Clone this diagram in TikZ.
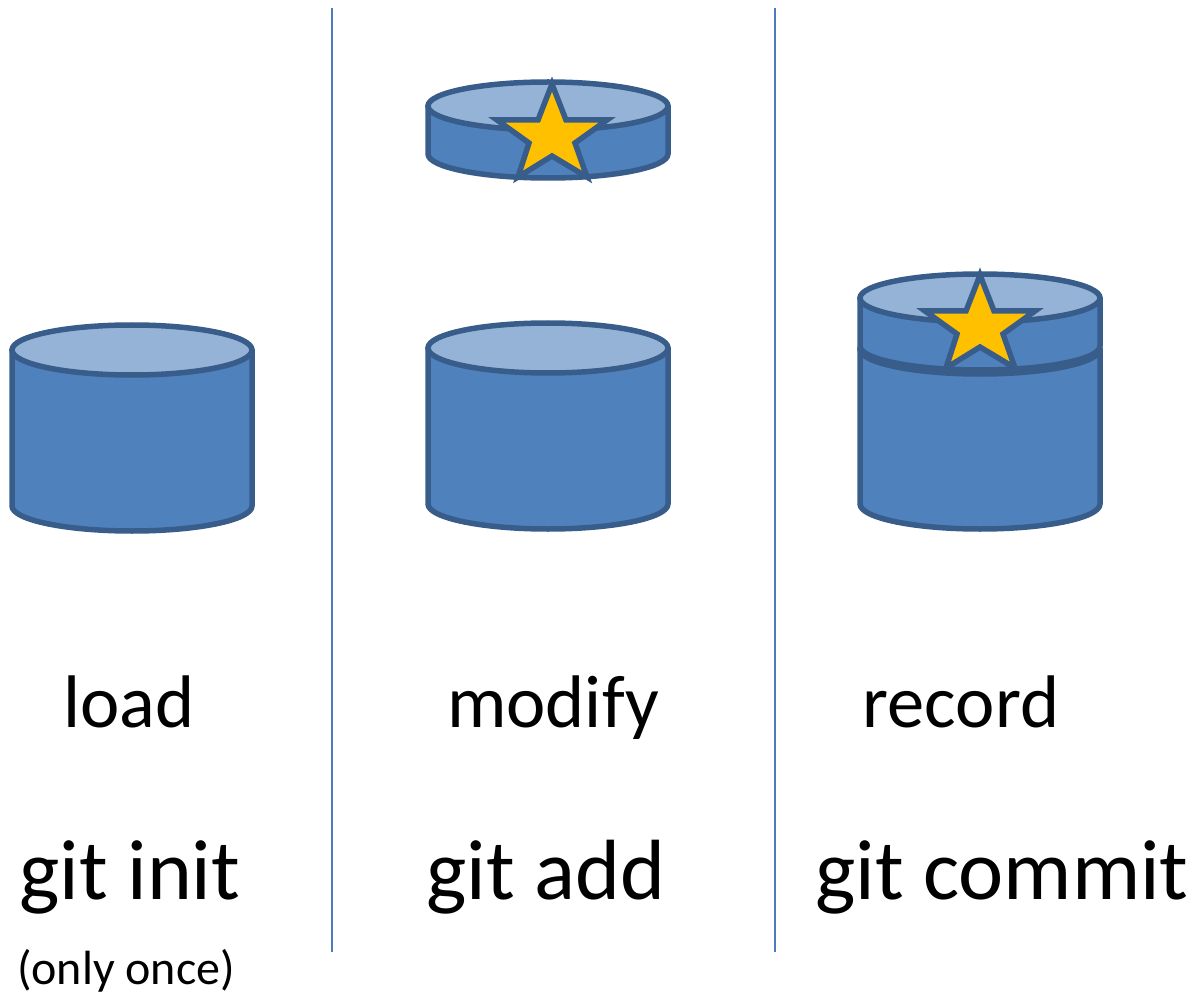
\documentclass[tikz,border=0pt]{standalone}
\usepackage{fontspec}
\setmainfont{Carlito}
\definecolor{cylfill}{HTML}{4F81BD}
\definecolor{cyltop}{HTML}{95B3D7}
\definecolor{cylline}{HTML}{385D8A}
\definecolor{sepline}{HTML}{4A7EBB}
\definecolor{stargold}{HTML}{FFC000}
\tikzset{
  cylbody/.style={fill=cylfill,draw=cylline,line width=5.5pt,line join=round},
  cylcap/.style={fill=cyltop,draw=cylline,line width=5.5pt},
  starshape/.style={fill=stargold,draw=cylline,line width=5.5pt,line join=miter,miter limit=10},
  sep/.style={draw=sepline,line width=1.5pt},
  lab/.style={inner sep=0pt,anchor=base,text=black},
  big/.style={lab,font=\fontsize{85.5}{85.5}\selectfont},
  mid/.style={lab,font=\fontsize{74.5}{74.5}\selectfont},
  small/.style={lab,font=\fontsize{48}{48}\selectfont}
}
% #1 centre x, #2 top y, #3 bottom y, #4 ry
\newcommand{\mycyl}[4]{%
  \path[cylbody] (#1-120,#2) -- (#1-120,#3) arc[start angle=180,end angle=0,x radius=120,y radius=#4] -- (#1+120,#2) -- cycle;
  \path[cylcap] (#1,#2) ellipse[x radius=120,y radius=#4];
}
\newcommand{\mystar}[2]{%
  \path[starshape,shift={(#1,#2)}] (0,0) -- (14,36) -- (55,36) -- (23,59) -- (35,93) -- (0,72) -- (-34,93) -- (-23,59) -- (-55,36) -- (-14,36) -- cycle;
}
\begin{document}
\begin{tikzpicture}[x=1pt,y=-1pt]
\useasboundingbox (0,0) rectangle (1195,995);
\coordinate (s1a) at (332,8); \coordinate (s1b) at (332,952);
\coordinate (s2a) at (775,8); \coordinate (s2b) at (775,952);
\draw[sep] (s1a) -- (s1b);
\draw[sep] (s2a) -- (s2b);
\mycyl{132}{350}{506}{25}
\mycyl{548}{348}{504}{25}
\mycyl{548}{106}{154}{24}
\mystar{552}{84}
\mycyl{980}{349}{504}{25}
\mycyl{980}{298}{346}{24}
\mystar{980}{275}
\node[mid] (load) at (129,727) {load};
\node[mid] (modify) at (553,727) {modify};
\node[mid] (record) at (961,727) {record};
\node[big] (init) at (130,899) {git init};
\node[big] (add) at (546,899) {git add};
\node[big] (commit) at (1002,899) {git commit};
\node[small] (once) at (126,984) {(only once)};
\end{tikzpicture}
\end{document}
